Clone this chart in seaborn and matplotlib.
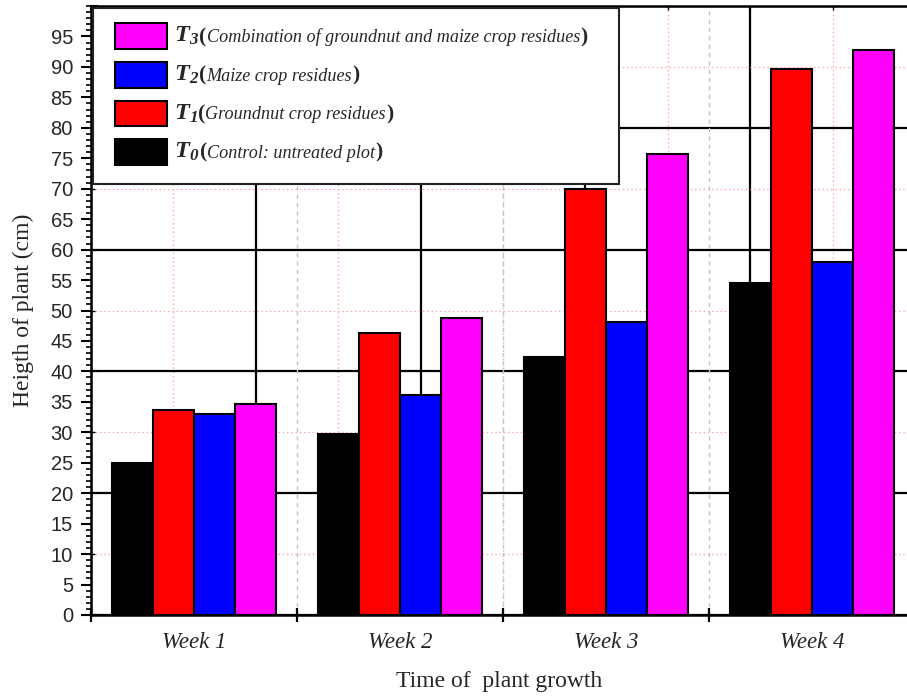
import numpy as np
import pandas as pd
import matplotlib
matplotlib.use("Agg")
import matplotlib.pyplot as plt
import seaborn as sns
from matplotlib.ticker import MultipleLocator
from matplotlib.offsetbox import AnchoredOffsetbox, HPacker, VPacker, TextArea, DrawingArea
from matplotlib.patches import Rectangle

# ---- data ----
weeks = ["Week 1", "Week 2", "Week 3", "Week 4"]
treatments = ["T0", "T1", "T2", "T3"]
t0_control = [24.9, 29.7, 42.3, 54.5]
t1_groundnut = [33.6, 46.3, 69.9, 89.7]
t2_maize = [33.0, 36.1, 48.1, 58.0]
t3_combination = [34.7, 48.7, 75.7, 92.7]
legend_subscripts = ["0", "1", "2", "3"]
legend_descriptions = [
    "Control: untreated plot",
    "Groundnut crop residues",
    "Maize crop residues",
    "Combination of groundnut and maize crop residues",
]
colors = ["#000000", "#ff0000", "#0000ff", "#ff00ff"]

df = pd.DataFrame({
    "week": [w for w in weeks for _ in treatments],
    "treatment": [t for _ in weeks for t in treatments],
    "height": [v for i in range(len(weeks)) for v in
               (t0_control[i], t1_groundnut[i], t2_maize[i], t3_combination[i])],
})

sns.set_theme(style="white")
plt.rcParams["font.family"] = ["Liberation Serif", "DejaVu Serif"]
plt.rcParams["mathtext.fontset"] = "custom"
plt.rcParams["mathtext.rm"] = "Liberation Serif"
plt.rcParams["mathtext.it"] = "Liberation Serif:italic"
plt.rcParams["mathtext.bf"] = "Liberation Serif:bold"
plt.rcParams["mathtext.bfit"] = "Liberation Serif:italic:bold"

fig = plt.figure(figsize=(9.07, 6.97), dpi=100)
pos = [91 / 907, (697 - 615) / 697, 824 / 907, 609 / 697]

# background layer holding the secondary grid
ax2 = fig.add_axes(pos, zorder=0)
ax2.set_xlim(0, 100)
ax2.set_ylim(0, 100)
ax2.xaxis.set_major_locator(MultipleLocator(20))
ax2.xaxis.set_minor_locator(MultipleLocator(10))
ax2.yaxis.set_major_locator(MultipleLocator(20))
ax2.yaxis.set_minor_locator(MultipleLocator(10))
ax2.grid(True, which="major", color="black", linewidth=1.6, linestyle="-")
ax2.grid(True, which="minor", color="#ffa8a8", linewidth=0.9, linestyle=(0, (1.2, 2.2)))
ax2.tick_params(which="both", direction="in", top=True, left=True, bottom=False, right=False,
                labelleft=False, labelbottom=False, color="black")
ax2.tick_params(which="major", length=5, width=1.5)
ax2.tick_params(which="minor", length=3, width=1.0)
for s in ax2.spines.values():
    s.set_visible(False)
ax2.set_facecolor("white")

# main bars
ax = fig.add_axes(pos, zorder=1)
ax.patch.set_visible(False)
sns.barplot(data=df, x="week", y="height", hue="treatment", palette=colors,
            saturation=1, width=0.8, edgecolor="black", linewidth=1.5,
            legend=False, ax=ax, zorder=3)
ax.set_xlim(-0.5, 3.5)
ax.set_ylim(0, 100)

ax.set_xticks([-0.5, 0.5, 1.5, 2.5, 3.5])
ax.set_xticklabels([])
ax.set_xticks(range(len(weeks)), minor=True)
ax.set_xticklabels(weeks, minor=True, fontsize=16.5, style="italic",
                   family="Liberation Serif")
ax.tick_params(axis="x", which="minor", length=0, pad=12)
ax.tick_params(axis="x", which="major", direction="inout", length=10, width=1.6,
               bottom=True, color="black")

ax.yaxis.set_major_locator(MultipleLocator(5))
ax.yaxis.set_minor_locator(MultipleLocator(1))
ax.set_yticks(np.arange(0, 100, 5))
ax.tick_params(axis="y", which="major", direction="out", length=7, width=1.5,
               left=True, pad=6, labelsize=14.5, color="black")
ax.tick_params(axis="y", which="minor", direction="out", length=3.5, width=1.2,
               left=True, color="black")
for lab in ax.get_yticklabels():
    lab.set_family("Liberation Sans")

ax.grid(False)
ax.xaxis.grid(True, which="major", color="#c4c4c4", linewidth=1.0, linestyle=(0, (3, 3)))
ax.set_axisbelow(True)

for side in ["left", "bottom", "top"]:
    ax.spines[side].set_visible(True)
    ax.spines[side].set_color("black")
    ax.spines[side].set_linewidth(1.8)
ax.spines["right"].set_visible(False)

ax.set_xlabel("Time of  plant growth", fontsize=17, family="Liberation Serif")
ax.set_ylabel("Heigth of plant (cm)", fontsize=17, family="Liberation Serif")
ax.xaxis.set_label_coords(0.495, -0.092)
ax.yaxis.set_label_coords(-0.069, 0.5)

# legend (reversed order: T3 on top)
rows = []
for idx in reversed(range(len(treatments))):
    da = DrawingArea(37.5, 18.5, 0, 0)
    da.add_artist(Rectangle((0, 0), 37.5, 18.5, facecolor=colors[idx],
                            edgecolor="black", linewidth=1.5))
    t_sym = TextArea(r"$\mathbfit{T}_{\mathbfit{%s}}$" % legend_subscripts[idx],
                     textprops=dict(fontsize=17.5))
    t_open = TextArea("(", textprops=dict(fontsize=15.5, fontweight="bold",
                                           family="Liberation Serif"))
    t_desc = TextArea(legend_descriptions[idx], textprops=dict(fontsize=13.1, style="italic",
                                                               family="Liberation Serif"))
    t_close = TextArea(")", textprops=dict(fontsize=15.5, fontweight="bold",
                                            family="Liberation Serif"))
    txt = HPacker(children=[t_sym, t_open, t_desc, t_close], align="baseline", pad=0, sep=0)
    rows.append(HPacker(children=[da, txt], align="center", pad=0, sep=5))
vbox = VPacker(children=rows, align="left", pad=0, sep=9.3)
vbox2 = VPacker(children=[DrawingArea(1, 1, 0, 0), vbox, DrawingArea(1, 4, 0, 0)],
                align="left", pad=0, sep=0)
lead = DrawingArea(6, 1, 0, 0)
trail = DrawingArea(13, 1, 0, 0)
content = HPacker(children=[lead, vbox2, trail], align="top", pad=0, sep=0)
anch = AnchoredOffsetbox(loc="upper left", child=content, pad=1.0, borderpad=0.15,
                         frameon=True, bbox_to_anchor=(0, 1), bbox_transform=ax.transAxes,
                         prop=dict(size=10))
anch.patch.set_edgecolor("#222222")
anch.patch.set_linewidth(1.5)
anch.patch.set_boxstyle("square", pad=0)
anch.set_zorder(10)
ax.add_artist(anch)

fig.savefig("out.png", dpi=100)
